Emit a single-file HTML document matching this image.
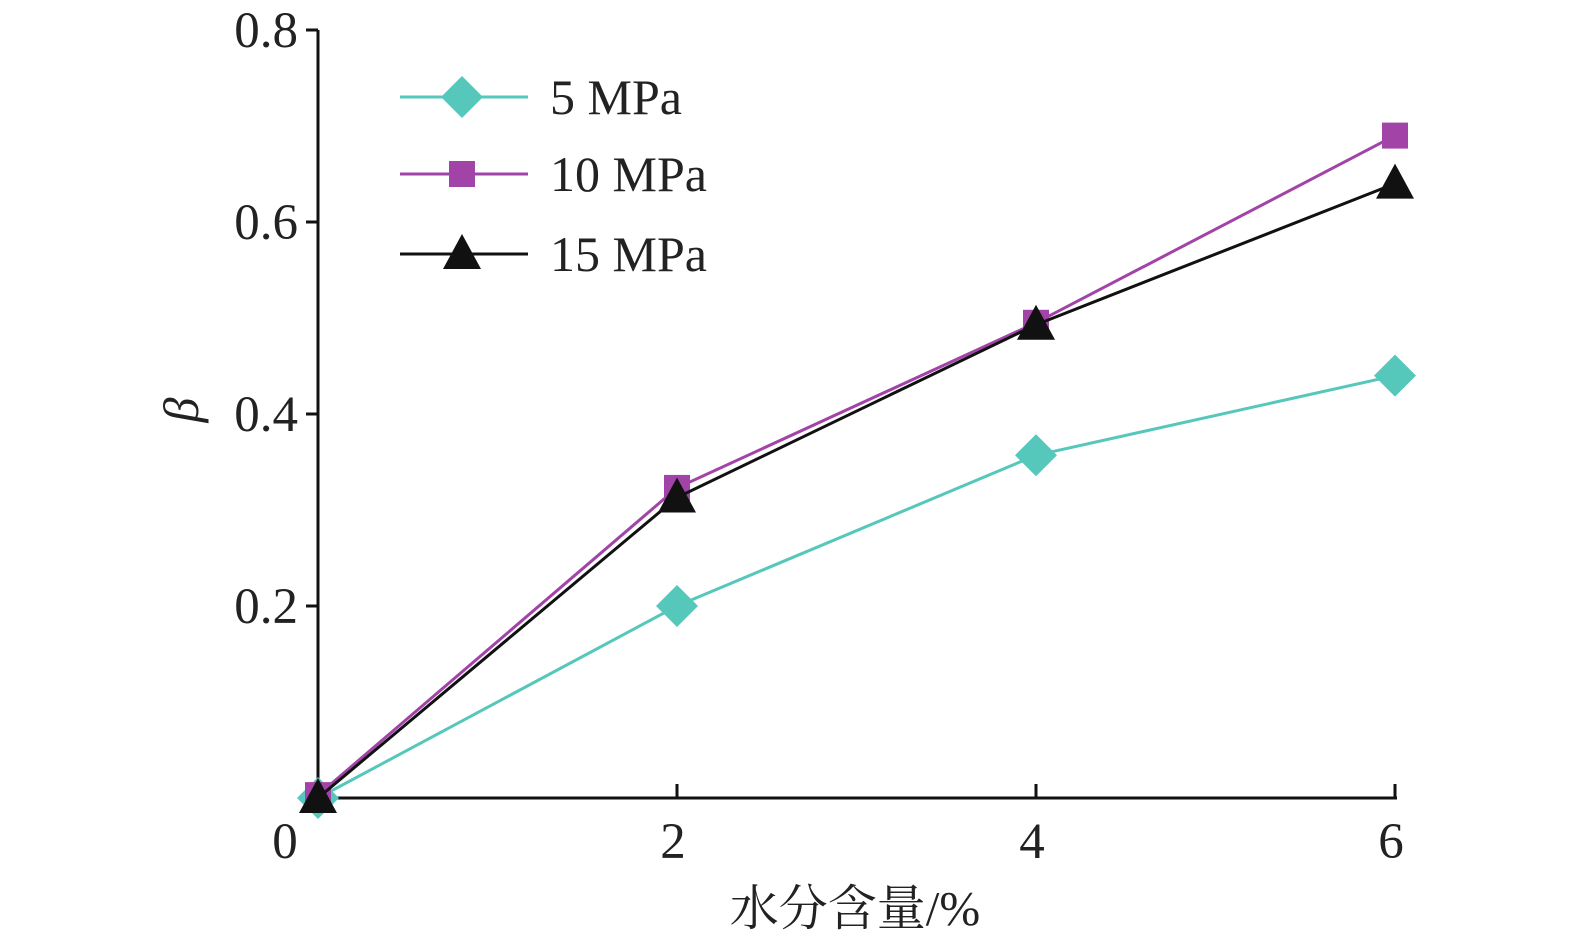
<!DOCTYPE html>
<html><head><meta charset="utf-8"><style>
html,body{margin:0;padding:0;background:#fff;}
svg text{font-family:"Liberation Serif","Noto Serif CJK SC",serif;fill:#222;}
</style></head><body>
<svg id="chart" width="1575" height="945" viewBox="0 0 1575 945" xmlns="http://www.w3.org/2000/svg"></svg>
<script>
const categories=[0,2,4,6];
const series5=[0,0.2,0.357,0.44];
const series10=[0.003,0.323,0.495,0.69];
const series15=[0,0.313,0.493,0.64];
const yTicks=[0.2,0.4,0.6,0.8];
const xTicks=[2,4,6];
const svg=document.getElementById('chart');
const NS='http://www.w3.org/2000/svg';
function X(v){return 318+v*179.5;}
function Y(v){return 798-v*960;}
function mk(tag,attrs,parent){const e=document.createElementNS(NS,tag);for(const k in attrs)e.setAttribute(k,attrs[k]);(parent||svg).appendChild(e);return e;}
let a=mk('line',{x1:318,y1:30,x2:318,y2:798,stroke:'#111','stroke-width':3});


a=mk('line',{x1:318,y1:798,x2:1397,y2:798,stroke:'#111','stroke-width':3});


yTicks.forEach(t=>{
 const l=mk('line',{x1:306,y1:Y(t),x2:318,y2:Y(t),stroke:'#111','stroke-width':3});
 
 
 const tx=mk('text',{x:298,y:Y(t)+17,'text-anchor':'end','font-size':51});
 tx.textContent=t.toFixed(1);
 
 
});
xTicks.forEach(t=>{
 const l=mk('line',{x1:X(t),y1:784,x2:X(t),y2:798,stroke:'#111','stroke-width':3});
 
 
 const tx=mk('text',{x:X(t)-4,y:858,'text-anchor':'middle','font-size':51});
 tx.textContent=t;
 
 
});
let t0=mk('text',{x:285,y:858,'text-anchor':'middle','font-size':51});t0.textContent='0';


let xt=mk('text',{x:855,y:925,'text-anchor':'middle','font-size':49});xt.textContent='水分含量/%';


let yt=mk('text',{x:0,y:0,'font-size':50,'font-style':'italic','text-anchor':'middle',transform:'translate(198,410) rotate(-90)'});yt.textContent='β';


function marker(type,cx,cy,color,g){
 if(type==='d') return mk('polygon',{points:`${cx},${cy-21} ${cx+21},${cy} ${cx},${cy+21} ${cx-21},${cy}`,fill:color},g);
 if(type==='s') return mk('rect',{x:cx-13,y:cy-13,width:26,height:26,fill:color},g);
 return mk('polygon',{points:`${cx},${cy-20} ${cx+19},${cy+15} ${cx-19},${cy+15}`,fill:color},g);
}
const defs=[[series5,'#55c7bb','d','series-5mpa'],[series10,'#a243a8','s','series-10mpa'],[series15,'#111','t','series-15mpa']];
defs.forEach(([vals,color,type,name])=>{
 const g=mk('g',{});
 
 
 const pl=mk('polyline',{points:vals.map((v,i)=>X(categories[i])+','+Y(v)).join(' '),fill:'none',stroke:color,'stroke-width':3},g);
 
 
 vals.forEach((v,i)=>{const m=marker(type,X(categories[i]),Y(v),color,g);
  
  });
});
const leg=[['5 MPa','#55c7bb','d',97],['10 MPa','#a243a8','s',174],['15 MPa','#111','t',254]];
leg.forEach(([lab,color,type,y])=>{
 const g=mk('g',{});
 
 
 mk('line',{x1:400,y1:y,x2:528,y2:y,stroke:color,'stroke-width':3},g);
 marker(type,462,y,color,g);
 const t=mk('text',{x:550,y:y+17,'font-size':50},g);t.textContent=lab;
});
</script>
</body></html>
